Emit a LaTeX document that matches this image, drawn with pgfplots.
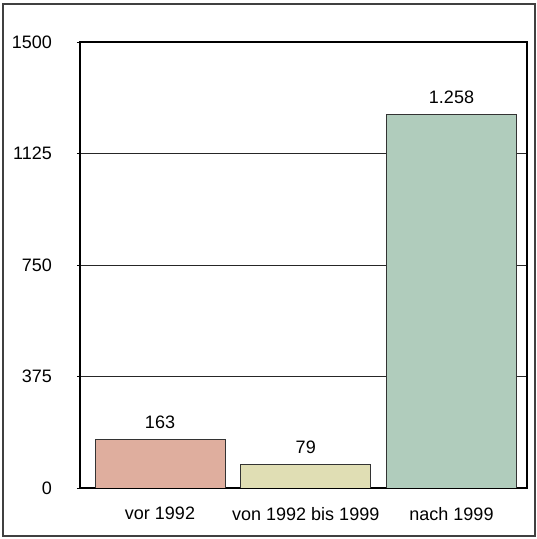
\documentclass[border=0pt]{standalone}
\usepackage{fontspec}
\setmainfont{Liberation Sans}
\usepackage{pgfplots}
\pgfplotsset{compat=1.18}
\definecolor{barA}{RGB}{223,174,158}
\definecolor{barB}{RGB}{224,222,180}
\definecolor{barC}{RGB}{176,204,188}
\begin{document}
\fontsize{18}{21}\selectfont
\begin{tikzpicture}
\path (0pt,0pt) rectangle (537pt,539pt);
\draw[line width=1.4pt, draw=black!75] (3pt,3pt) rectangle (535pt,535pt);
\begin{axis}[at={(80pt,51pt)}, anchor=south west, scale only axis,
  width=447pt, height=446pt,
  xmin=-0.549, xmax=2.518, ymin=0, ymax=1500,
  ytick={0,375,750,1125,1500},
  xtick={0,1,2}, xticklabels={vor 1992, von 1992 bis 1999, nach 1999},
  ymajorgrids, grid style={black!85, line width=0.8pt},
  axis line style={line width=1.2pt, black},
  ytick pos=left, xtick pos=bottom,
  ytick align=outside, major tick length=3pt,
  ytick style={black, line width=0.8pt}, xtick style={draw=none},
  /pgf/number format/assume math mode=true,
  /pgf/number format/1000 sep={},
  yticklabel style={anchor=east, inner sep=0pt, xshift=-25pt},
  xticklabel style={anchor=north, inner sep=0pt, yshift=-16pt},
  ybar, bar width=130pt, bar shift=0pt,
  nodes near coords, point meta=explicit symbolic,
  nodes near coords style={anchor=south, inner sep=0pt, yshift=10pt, black},
]
\addplot[fill=barA, draw=black!80, line width=0.9pt] coordinates {(0,163) [163]};
\addplot[fill=barB, draw=black!80, line width=0.9pt] coordinates {(1,79) [79]};
\addplot[fill=barC, draw=black!80, line width=0.9pt] coordinates {(2,1258) [1.258]};
\end{axis}
\end{tikzpicture}
\end{document}
